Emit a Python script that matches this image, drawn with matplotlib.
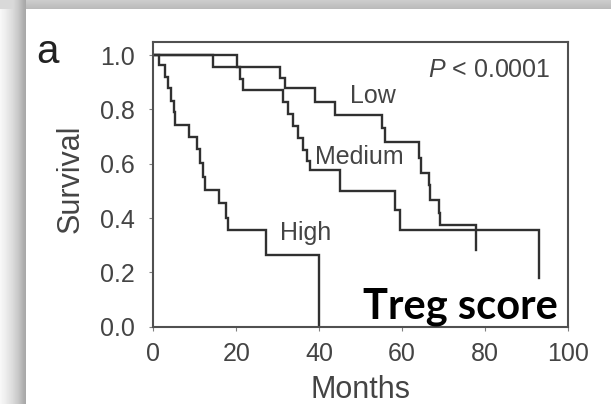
import numpy as np
import matplotlib
matplotlib.use("Agg")
import matplotlib.pyplot as plt

# ---- data ----
months_low = [0, 14.4, 30.5, 31.7, 38.9, 43.8, 55.2, 55.9, 64.0, 64.5, 66.4, 66.8, 68.8, 69.2, 77.9]
surv_low = [1.0, 0.957, 0.914, 0.877, 0.828, 0.779, 0.73, 0.681, 0.62, 0.564, 0.52, 0.466, 0.42, 0.374, 0.282]

months_medium = [0, 20.1, 20.9, 21.7, 31.3, 32.5, 33.7, 34.9, 36.1, 37.0, 37.7, 45.0, 58.2, 59.4, 93.1]
surv_medium = [1.0, 0.957, 0.913, 0.870, 0.826, 0.783, 0.739, 0.696, 0.652, 0.609, 0.575, 0.50, 0.43, 0.355, 0.178]

months_high = [0, 1.4, 2.8, 3.5, 4.3, 4.9, 5.2, 8.6, 10.4, 11.2, 12.0, 12.5, 15.9, 17.6, 17.9, 27.1, 40.0]
surv_high = [1.0, 0.963, 0.92, 0.88, 0.83, 0.79, 0.742, 0.699, 0.655, 0.601, 0.55, 0.503, 0.454, 0.40, 0.355, 0.263, 0.0]

group_names = ["Low", "Medium", "High"]
x_ticks = [0, 20, 40, 60, 80, 100]
y_ticks = [0.0, 0.2, 0.4, 0.6, 0.8, 1.0]
y_tick_labels = ["0.0", "0.2", "0.4", "0.6", "0.8", "1.0"]

plt.rcParams["font.family"] = ["Liberation Sans", "DejaVu Sans"]
plt.rcParams["mathtext.fontset"] = "custom"
plt.rcParams["mathtext.rm"] = "Liberation Sans"
plt.rcParams["mathtext.it"] = "Liberation Sans:italic"

W, H = 611, 404
fig = plt.figure(figsize=(W / 100, H / 100), dpi=100)
fig.patch.set_facecolor("white")

# grey frame / shadow of the pasted picture
bg = fig.add_axes([0, 0, 1, 1], zorder=-10)
img = np.ones((H, W))
left = np.interp(np.arange(26), [0, 5, 12, 18, 23, 25], [0.97, 0.93, 0.86, 0.78, 0.68, 0.66])
img[:, :26] = left[None, :]
top = np.interp(np.arange(9), [0, 8], [0.80, 0.73])
img[:9, 26:] = top[:, None]
img[:9, :26] = np.minimum(img[:9, :26], 0.85)
bg.imshow(img, cmap="gray", vmin=0, vmax=1, aspect="auto", interpolation="nearest")
bg.axis("off")

ax = fig.add_axes([153.0 / W, (H - 326.7) / H, 415.3 / W, 285.0 / H])
line_color = "#303030"
for m, s in [(months_low, surv_low), (months_medium, surv_medium), (months_high, surv_high)]:
    ax.step(m, s, where="post", color=line_color, lw=1.7, solid_joinstyle="miter")

ax.set_xlim(-0.1, 100.1)
ax.set_ylim(0, 1.049)
ax.set_xticks(x_ticks)
ax.set_yticks(y_ticks)
ax.set_yticklabels(y_tick_labels)
for sp in ax.spines.values():
    sp.set_color("#505050")
    sp.set_linewidth(1.5)
ax.tick_params(direction="out", length=3, width=0.8, color="#808080",
               labelsize=18, labelcolor="#444444")
ax.tick_params(axis="y", pad=10)
ax.tick_params(axis="x", pad=8)

ax.set_xlabel("Months", fontsize=22, color="#444444", va="baseline")
ax.xaxis.set_label_coords(0.5, -0.251)
ax.set_ylabel("Survival", fontsize=22, color="#444444", va="baseline")
ax.yaxis.set_label_coords(-0.178, 0.5175)

lab_kw = dict(fontsize=18, color="#444444", va="baseline", ha="left")
ax.text(47.4, 0.822, group_names[0], **lab_kw)
ax.text(38.9, 0.599, group_names[1], **lab_kw)
ax.text(30.5, 0.319, group_names[2], **lab_kw)
ax.text(95.7, 0.920, r"$P$ < 0.0001", fontsize=18, color="#444444", va="baseline", ha="right")

fig.text(36.7 / W, 1 - 62.7 / H, "a", fontsize=29, color="#222222", va="baseline", ha="left")
fig.text(362.7 / W, 1 - 318.3 / H, "Treg score", family=["Lato", "DejaVu Sans"],
         fontweight="bold", fontsize=30, color="black", va="baseline", ha="left", zorder=10)

fig.savefig("out.png", dpi=100)
